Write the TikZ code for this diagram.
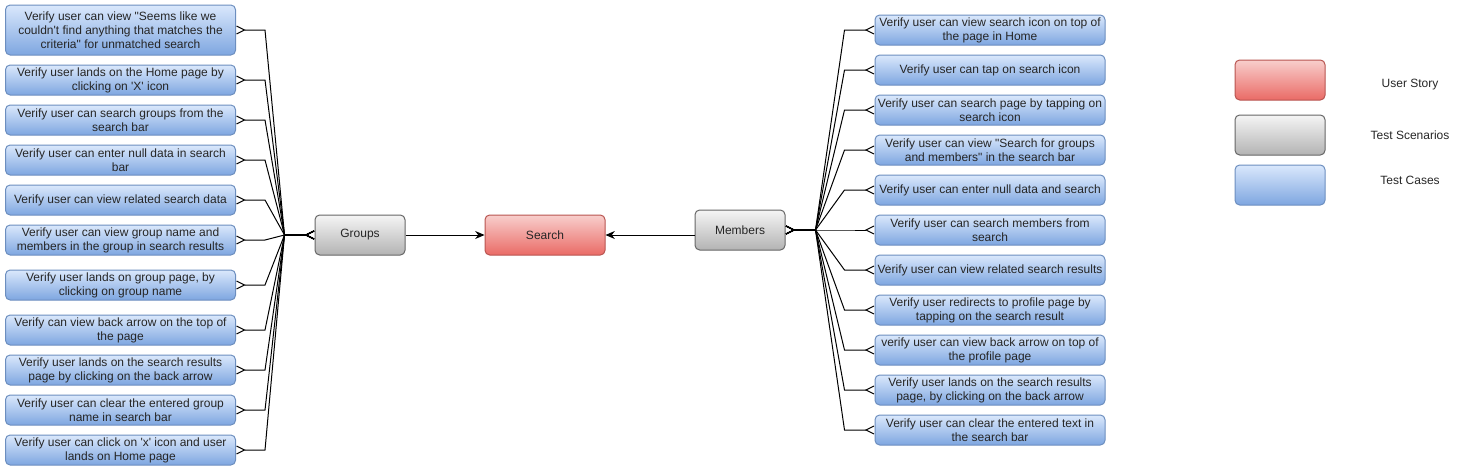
\documentclass[tikz,border=0pt]{standalone}
\usepackage{fontspec}
\newfontfamily\diofont{Liberation Sans}
\usetikzlibrary{arrows.meta,calc}

\definecolor{storytop}{HTML}{F8CECC}
\definecolor{storybot}{HTML}{EA6B66}
\definecolor{storyline}{HTML}{B85450}
\definecolor{scentop}{HTML}{F5F5F5}
\definecolor{scenbot}{HTML}{B3B3B3}
\definecolor{scenline}{HTML}{666666}
\definecolor{casetop}{HTML}{DAE8FC}
\definecolor{casebot}{HTML}{7EA6E0}
\definecolor{caseline}{HTML}{6C8EBF}

\begin{document}
\begin{tikzpicture}[
    x = 0.75pt, y = -0.75pt,
    font = \diofont\fontsize{9}{10.5}\selectfont,
    story/.style={draw=storyline, top color=storytop, bottom color=storybot, rectangle, rounded corners=3.5pt, line width=0.75pt, minimum width=90pt, minimum height=30pt, text=black!85},
    scenario/.style={draw=scenline, top color=scentop, bottom color=scenbot, rectangle, rounded corners=3.5pt, line width=0.75pt, minimum width=67.5pt, minimum height=30pt, text=black!85},
    testcase/.style={draw=caseline, top color=casetop, bottom color=casebot, rectangle, rounded corners=3.5pt, line width=0.75pt, minimum width=172.5pt, minimum height=22.5pt, inner sep=1pt, align=center, text=black!85},
    legend/.style={minimum width=67.5pt, minimum height=30pt},
    label/.style={text=black!85},
    arrow/.style={-{Stealth[length=7pt, width=6pt]}, line width=0.75pt, color=black},
    many/.style={{Straight Barb[reversed, length=6pt, width=6pt]}-{Straight Barb[reversed, length=6pt, width=6pt]}, line width=0.75pt, color=black}
]
    \useasboundingbox (0, 0) rectangle (1462, 471);

    % User story
    \node (search) at (545, 235) [story] {Search};

    % Test scenarios
    \node (groups) at (360, 235) [scenario] {Groups};
    \node (members) at (740, 230) [scenario] {Members};

    % Test cases for groups
    \node (g1) at (120.5, 30) [testcase, minimum height=37.5pt] {Verify user can view "Seems like we\\couldn't find anything that matches the\\criteria" for unmatched search};
    \node (g2) at (120.5, 80) [testcase] {Verify user lands on the Home page by\\clicking on 'X' icon};
    \node (g3) at (120.5, 120) [testcase] {Verify user can search groups from the\\search bar};
    \node (g4) at (120.5, 160) [testcase] {Verify user can enter null data in search\\bar};
    \node (g5) at (120.5, 200) [testcase] {Verify user can view related search data};
    \node (g6) at (120.5, 240) [testcase] {Verify user can view group name and\\members in the group in search results};
    \node (g7) at (120.5, 285) [testcase] {Verify user lands on group page, by\\clicking on group name};
    \node (g8) at (120.5, 330) [testcase] {Verify can view back arrow on the top of\\the page};
    \node (g9) at (120.5, 370) [testcase] {Verify user lands on the search results\\page by clicking on the back arrow};
    \node (g10) at (120.5, 410) [testcase] {Verify user can clear the entered group\\name in search bar};
    \node (g11) at (120.5, 450) [testcase] {Verify user can click on 'x' icon and user\\lands on Home page};

    % Test cases for members
    \node (m1) at (990, 30) [testcase] {Verify user can view search icon on top of\\the page in Home};
    \node (m2) at (990, 70) [testcase] {Verify user can tap on search icon};
    \node (m3) at (990, 110) [testcase] {Verify user can search page by tapping on\\search icon};
    \node (m4) at (990, 150) [testcase] {Verify user can view "Search for groups\\and members" in the search bar};
    \node (m5) at (990, 190) [testcase] {Verify user can enter null data and search};
    \node (m6) at (990, 230) [testcase] {Verify user can search members from\\search};
    \node (m7) at (990, 270) [testcase] {Verify user can view related search results};
    \node (m8) at (990, 310) [testcase] {Verify user redirects to profile page by\\tapping on the search result};
    \node (m9) at (990, 350) [testcase] {verify user can view back arrow on top of\\the profile page};
    \node (m10) at (990, 390) [testcase] {Verify user lands on the search results\\page, by clicking on the back arrow};
    \node (m11) at (990, 430) [testcase] {Verify user can clear the entered text in\\the search bar};

    % Legend
    \node (keystory) at (1280, 80) [story, legend] {};
    \node (keyscen) at (1280, 135) [scenario, legend] {};
    \node (keycase) at (1280, 185) [testcase, legend] {};
    \node (keystorytext) at (1410, 85) [label] {User Story};
    \node (keyscentext) at (1410, 135) [label] {Test Scenarios};
    \node (keycasetext) at (1410, 180) [label] {Test Cases};

    % Arrows
    \draw[arrow] (groups) -- (search);
    \draw[arrow] (members.west |- search.east) -- (search.east);

    % Groups to its test cases
    \draw[many] (groups.west) -- ++(-30, 0) -- ($(g1.east) + (29, 0)$) -- (g1.east);
    \draw[many] (groups.west) -- ++(-30, 0) -- ($(g2.east) + (29, 0)$) -- (g2.east);
    \draw[many] (groups.west) -- ++(-30, 0) -- ($(g3.east) + (29, 0)$) -- (g3.east);
    \draw[many] (groups.west) -- ++(-30, 0) -- ($(g4.east) + (29, 0)$) -- (g4.east);
    \draw[many] (groups.west) -- ++(-30, 0) -- ($(g5.east) + (29, 0)$) -- (g5.east);
    \draw[many] (groups.west) -- ++(-30, 0) -- ($(g6.east) + (29, 0)$) -- (g6.east);
    \draw[many] (groups.west) -- ++(-30, 0) -- ($(g7.east) + (29, 0)$) -- (g7.east);
    \draw[many] (groups.west) -- ++(-30, 0) -- ($(g8.east) + (29, 0)$) -- (g8.east);
    \draw[many] (groups.west) -- ++(-30, 0) -- ($(g9.east) + (29, 0)$) -- (g9.east);
    \draw[many] (groups.west) -- ++(-30, 0) -- ($(g10.east) + (29, 0)$) -- (g10.east);
    \draw[many] (groups.west) -- ++(-30, 0) -- ($(g11.east) + (29, 0)$) -- (g11.east);

    % Members to its test cases
    \draw[many] (members.east) -- ++(30, 0) -- ($(m1.west) + (-30, 0)$) -- (m1.west);
    \draw[many] (members.east) -- ++(30, 0) -- ($(m2.west) + (-30, 0)$) -- (m2.west);
    \draw[many] (members.east) -- ++(30, 0) -- ($(m3.west) + (-30, 0)$) -- (m3.west);
    \draw[many] (members.east) -- ++(30, 0) -- ($(m4.west) + (-30, 0)$) -- (m4.west);
    \draw[many] (members.east) -- ++(30, 0) -- ($(m5.west) + (-30, 0)$) -- (m5.west);
    \draw[many] (members.east) -- ++(30, 0) -- ($(m6.west) + (-30, 0)$) -- (m6.west);
    \draw[many] (members.east) -- ++(30, 0) -- ($(m7.west) + (-30, 0)$) -- (m7.west);
    \draw[many] (members.east) -- ++(30, 0) -- ($(m8.west) + (-30, 0)$) -- (m8.west);
    \draw[many] (members.east) -- ++(30, 0) -- ($(m9.west) + (-30, 0)$) -- (m9.west);
    \draw[many] (members.east) -- ++(30, 0) -- ($(m10.west) + (-30, 0)$) -- (m10.west);
    \draw[many] (members.east) -- ++(30, 0) -- ($(m11.west) + (-30, 0)$) -- (m11.west);
\end{tikzpicture}
\end{document}
